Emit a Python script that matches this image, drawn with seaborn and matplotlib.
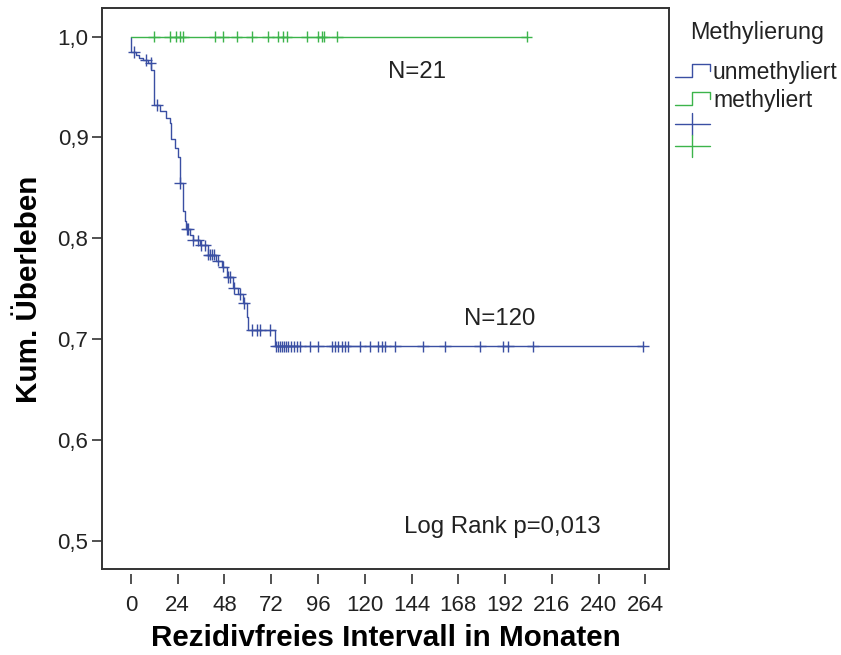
import numpy as np
import pandas as pd
import matplotlib
matplotlib.use("Agg")
import matplotlib.pyplot as plt
from matplotlib.lines import Line2D
import seaborn as sns

# ── Kaplan-Meier data (months / cumulative survival) ──
blue_event_t = [0.3, 2.7, 4.4, 6.2, 8.7, 10.4, 11.8, 14.7, 18.1, 19.8, 20.7,
                22.4, 24.1, 25.0, 26.7, 27.5, 28.2, 30.1, 31.8, 35.4, 39.5,
                43.5, 46.7, 49.3, 52.3, 55.0, 57.5, 59.4, 60.2, 73.9]
blue_event_s = [0.985, 0.982, 0.979, 0.977, 0.974, 0.967, 0.932, 0.926, 0.919,
                0.914, 0.898, 0.890, 0.881, 0.855, 0.827, 0.817, 0.809, 0.803,
                0.798, 0.793, 0.784, 0.778, 0.772, 0.762, 0.751, 0.745, 0.736,
                0.722, 0.709, 0.693]
blue_censor_t = [1.5, 7.9, 10.1, 13.5, 25.3, 28.6, 29.4, 32.0, 34.5, 36.0,
                 38.0, 39.8, 40.6, 41.5, 42.5, 44.5, 47.5, 50.0, 51.0, 53.0,
                 56.0, 58.0, 61.9, 64.5, 66.2, 71.3, 74.5, 75.5, 76.5, 77.5,
                 78.5, 79.5, 80.5, 82.0, 83.5, 85.0, 86.7, 91.8, 96.1, 103.0,
                 104.7, 106.4, 108.1, 109.8, 111.5, 117.5, 122.6, 126.9, 128.6,
                 130.3, 135.5, 150.0, 161.1, 179.1, 191.0, 193.6, 206.4, 262.8]

green_event_t = []
green_event_s = []
green_censor_t = [12.0, 20.0, 23.1, 25.1, 26.8, 43.1, 47.4, 54.2, 61.9, 70.4,
                  75.6, 77.8, 79.9, 90.1, 96.1, 97.8, 99.0, 105.8, 203.0]

groups = ["unmethyliert", "methyliert"]
group_n = [120, 21]
colors = {"unmethyliert": "#3a4fa3", "methyliert": "#3cb44b"}
x_ticks = list(range(0, 265, 24))
y_ticks = [0.5, 0.6, 0.7, 0.8, 0.9, 1.0]
p_text = "Log Rank p=0,013"


def km_frames(name, ev_t, ev_s, cens_t):
    t = np.array([0.0] + list(ev_t))
    s = np.array([1.0] + list(ev_s))
    end = max(cens_t)
    curve = pd.DataFrame({"t": np.append(t, end), "s": np.append(s, s[-1]),
                          "group": name})
    idx = np.searchsorted(t, cens_t, side="right") - 1
    marks = pd.DataFrame({"t": cens_t, "s": s[idx], "group": name})
    return curve, marks


c1, m1 = km_frames(groups[0], blue_event_t, blue_event_s, blue_censor_t)
c2, m2 = km_frames(groups[1], green_event_t, green_event_s, green_censor_t)
curves = pd.concat([c1, c2], ignore_index=True)
marks = pd.concat([m1, m2], ignore_index=True)

sns.set_theme(style="white")
plt.rcParams["font.family"] = ["Liberation Sans", "DejaVu Sans"]
TXT = "#222222"

W, H = 841, 655
fig = plt.figure(figsize=(W / 100, H / 100), dpi=100)
ax = fig.add_axes([0.1216, 0.1308, 0.6734, 0.8565])

sns.lineplot(data=curves, x="t", y="s", hue="group", palette=colors,
             drawstyle="steps-post", estimator=None, sort=False,
             linewidth=1.0, legend=False, ax=ax)
sns.scatterplot(data=marks, x="t", y="s", hue="group", palette=colors,
                marker="+", s=70, linewidth=1.0, legend=False, ax=ax)

ax.set_xlim(-14.7, 275.9)
ax.set_ylim(0.472, 1.028)
for sp in ax.spines.values():
    sp.set_color("#333333")
    sp.set_linewidth(1.4)

ax.set_yticks(y_ticks)
ax.set_yticklabels([f"{v:.1f}".replace(".", ",") for v in y_ticks])
ax.tick_params(axis="y", direction="out", length=7, width=1.2, color="#333333",
               labelsize=16, labelcolor=TXT, pad=3, left=True)
ax.set_xticks([])

# SPSS draws the x ticks slightly detached from the frame
sec = ax.secondary_xaxis(-0.008)
sec.spines["bottom"].set_visible(False)
sec.set_xticks(x_ticks)
sec.set_xticklabels([str(v) for v in x_ticks])
sec.tick_params(axis="x", direction="out", length=7, width=1.2, color="#333333",
                labelsize=16, labelcolor=TXT, pad=8)

ax.set_xlabel("Rezidivfreies Intervall in Monaten", fontsize=21.3,
              fontweight="bold", color="black")
ax.xaxis.set_label_coords(0.5, -0.098)
ax.set_ylabel("Kum. Überleben", fontsize=21.3, fontweight="bold", color="black")
ax.yaxis.set_label_coords(-0.105, 0.5)

ax.text(147, 0.965, f"N={group_n[1]}", fontsize=17.3, color=TXT,
        ha="center", va="center")
ax.text(189.3, 0.72, f"N={group_n[0]}", fontsize=17.3, color=TXT,
        ha="center", va="center")
ax.text(190.8, 0.514, p_text, fontsize=17.3, color=TXT, ha="center", va="center")


# ── legend, drawn SPSS-style outside the frame ───────────────────────────────
def fx(px):
    return px / W


def fy(py):
    return 1 - py / H


fig.text(fx(757), fy(33), "Methylierung", fontsize=16.8, color=TXT,
         ha="center", va="center")
for i, g in enumerate(groups):
    y0 = 77 + 28 * i
    xs = [675, 691.5, 691.5, 710, 710]
    ys = [y0, y0, y0 - 13, y0 - 13, y0 - 6]
    fig.add_artist(Line2D([fx(v) for v in xs], [fy(v) for v in ys],
                          transform=fig.transFigure, color=colors[g], lw=1.0))
    fig.text(fx(713), fy(y0 - 4), g, fontsize=16.5, color=TXT,
             ha="left", va="center")
for i, g in enumerate(groups):
    cy = 124 + 22 * i
    fig.add_artist(Line2D([fx(675), fx(710)], [fy(cy), fy(cy)],
                          transform=fig.transFigure, color=colors[g], lw=1.0))
    fig.add_artist(Line2D([fx(692), fx(692)], [fy(cy - 11), fy(cy + 11)],
                          transform=fig.transFigure, color=colors[g], lw=1.0))

fig.savefig("out.png", dpi=100)
